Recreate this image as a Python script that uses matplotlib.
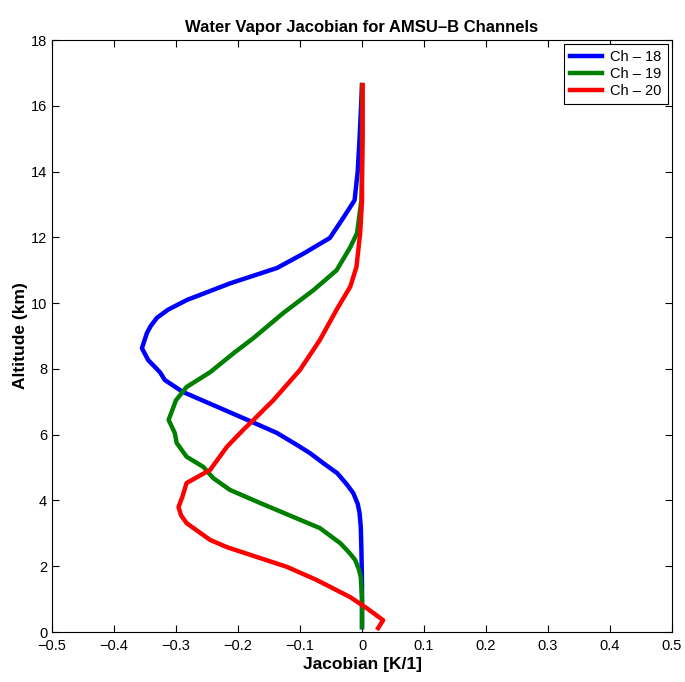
import numpy as np
import matplotlib.pyplot as plt

plt.rcParams['font.family'] = ['Liberation Sans', 'DejaVu Sans']

# altitude (km) and jacobian (K/1) per channel
alt_18 = [16.63, 15.0, 14.0, 13.13, 12.6, 11.98, 11.5, 11.07, 10.6, 10.1, 9.8, 9.55, 9.3, 9.09,
          8.63, 8.27, 7.9, 7.66, 7.3, 6.81, 6.45, 6.05, 5.7, 5.44, 5.1, 4.83, 4.5, 4.22, 3.9,
          3.62, 3.2, 2.5, 1.5, 0.15]
jac_18 = [0.0, -0.004, -0.007, -0.012, -0.03, -0.052, -0.095, -0.137, -0.213, -0.282, -0.313,
          -0.331, -0.341, -0.347, -0.355, -0.345, -0.326, -0.318, -0.289, -0.229, -0.185,
          -0.137, -0.106, -0.084, -0.060, -0.040, -0.025, -0.014, -0.007, -0.004, -0.002,
          -0.001, 0.0, 0.0]

alt_19 = [16.63, 15.0, 14.0, 13.13, 12.13, 11.7, 11.0, 10.4, 9.7, 8.94, 8.48, 7.9, 7.45,
          7.05, 6.45, 6.05, 5.75, 5.33, 5.02, 4.68, 4.32, 3.92, 3.5, 3.16, 2.7, 2.4, 2.19,
          1.9, 1.67, 1.0, 0.15]
jac_19 = [0.0, 0.0, 0.0, -0.001, -0.008, -0.019, -0.041, -0.078, -0.127, -0.175, -0.207,
          -0.245, -0.283, -0.300, -0.312, -0.302, -0.299, -0.283, -0.256, -0.240, -0.213,
          -0.164, -0.111, -0.068, -0.035, -0.020, -0.011, -0.005, -0.002, 0.0, 0.0]

alt_20 = [16.63, 15.0, 14.0, 13.13, 12.13, 11.1, 10.5, 9.8, 8.88, 7.97, 7.05, 6.45, 6.14,
          5.63, 4.93, 4.53, 4.1, 3.8, 3.55, 3.31, 2.8, 2.58, 1.98, 1.58, 1.06, 0.72, 0.36, 0.12]
jac_20 = [0.001, 0.001, 0.0, 0.0, -0.003, -0.009, -0.019, -0.041, -0.068, -0.100, -0.143,
          -0.175, -0.192, -0.218, -0.245, -0.283, -0.290, -0.296, -0.292, -0.283, -0.245,
          -0.218, -0.121, -0.073, -0.019, 0.008, 0.034, 0.026]

fig = plt.figure(figsize=(6.85, 6.82), dpi=100)
ax = fig.add_axes([0.076, 0.0733, 0.905, 0.868])

ax.plot(jac_18, alt_18, color='#0000ff', lw=3.2, label='Ch \u2013 18')
ax.plot(jac_19, alt_19, color='#008000', lw=3.2, label='Ch \u2013 19')
ax.plot(jac_20, alt_20, color='#ff0000', lw=3.2, label='Ch \u2013 20')

ax.set_xlim(-0.5, 0.5)
ax.set_ylim(0, 18)
ax.set_xticks(np.arange(-0.5, 0.51, 0.1))
ax.set_xticklabels(['\u22120.5', '\u22120.4', '\u22120.3', '\u22120.2', '\u22120.1', '0',
                    '0.1', '0.2', '0.3', '0.4', '0.5'])
ax.set_yticks(np.arange(0, 19, 2))
ax.tick_params(direction='in', top=True, right=True, labelsize=10.5, length=5)
ax.tick_params(axis='x', pad=5)

ax.set_title('Water Vapor Jacobian for AMSU\u2013B Channels', fontsize=12, fontweight='bold')
ax.set_xlabel('Jacobian [K/1]', fontsize=12.5, fontweight='bold', labelpad=3)
ax.set_ylabel('Altitude (km)', fontsize=12.5, fontweight='bold', labelpad=2)

leg = ax.legend(loc='upper right', fontsize=10.5, fancybox=False, framealpha=1,
                edgecolor='black', handlelength=2.2, borderaxespad=0.3,
                labelspacing=0.2, handletextpad=0.6)
leg.get_frame().set_linewidth(0.8)

fig.savefig('out.png', dpi=100)
